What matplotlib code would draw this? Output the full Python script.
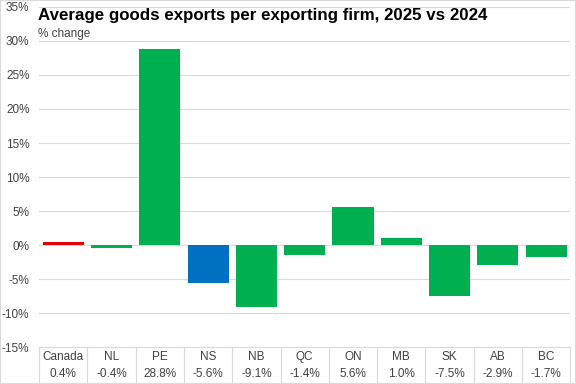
import matplotlib.pyplot as plt
from matplotlib.patches import Rectangle

regions = ["Canada", "NL", "PE", "NS", "NB", "QC", "ON", "MB", "SK", "AB", "BC"]
changes = [0.4, -0.4, 28.8, -5.6, -9.1, -1.4, 5.6, 1.0, -7.5, -2.9, -1.7]
labels = ["0.4%", "-0.4%", "28.8%", "-5.6%", "-9.1%", "-1.4%", "5.6%", "1.0%", "-7.5%", "-2.9%", "-1.7%"]
colors = ["#E00000", "#00B050", "#00B050", "#0070C0", "#00B050", "#00B050",
          "#00B050", "#00B050", "#00B050", "#00B050", "#00B050"]

plt.rcParams['font.family'] = ['Liberation Sans', 'DejaVu Sans']

fig = plt.figure(figsize=(5.76, 3.84), dpi=100)
ax = fig.add_axes([0.068, 0.096, 0.922, 0.886])

x = range(len(regions))
ax.bar(x, changes, width=0.85, color=colors, zorder=3)

ax.set_ylim(-15, 35)
ax.set_xlim(-0.5, len(regions) - 0.5)
ax.set_yticks(range(-15, 36, 5))
ax.set_yticklabels([f"{t}%" for t in range(-15, 36, 5)], fontsize=8.5, color="#404040")
ax.yaxis.grid(True, color="#D9D9D9", linewidth=0.8, zorder=0)
ax.set_xticks([])
ax.tick_params(axis="y", length=0, pad=7)
for s in ax.spines.values():
    s.set_visible(False)

# data table under the plot
tr = ax.get_xaxis_transform()
for i, (r, v) in enumerate(zip(regions, labels)):
    ax.text(i, -0.03, r, transform=tr, ha="center", va="center", fontsize=8.5, color="#404040", clip_on=False)
    ax.text(i, -0.078, v, transform=tr, ha="center", va="center", fontsize=8.5, color="#404040", clip_on=False)
for i in range(len(regions) + 1):
    ax.plot([i - 0.5, i - 0.5], [0, -0.11], transform=tr, color="#D9D9D9", linewidth=0.8, clip_on=False)
ax.plot([-0.5, len(regions) - 0.5], [0, 0], transform=tr, color="#D9D9D9", linewidth=0.8, clip_on=False)

fig.text(0.066, 0.947, "Average goods exports per exporting firm, 2025 vs 2024",
         fontsize=12.2, fontweight="bold", color="black")
fig.text(0.066, 0.904, "% change", fontsize=8.5, color="#404040")

fig.patches.append(Rectangle((0, 0), 1, 1, transform=fig.transFigure, fill=False,
                             edgecolor="#D9D9D9", linewidth=1.5))

fig.savefig("out.png", dpi=100)
